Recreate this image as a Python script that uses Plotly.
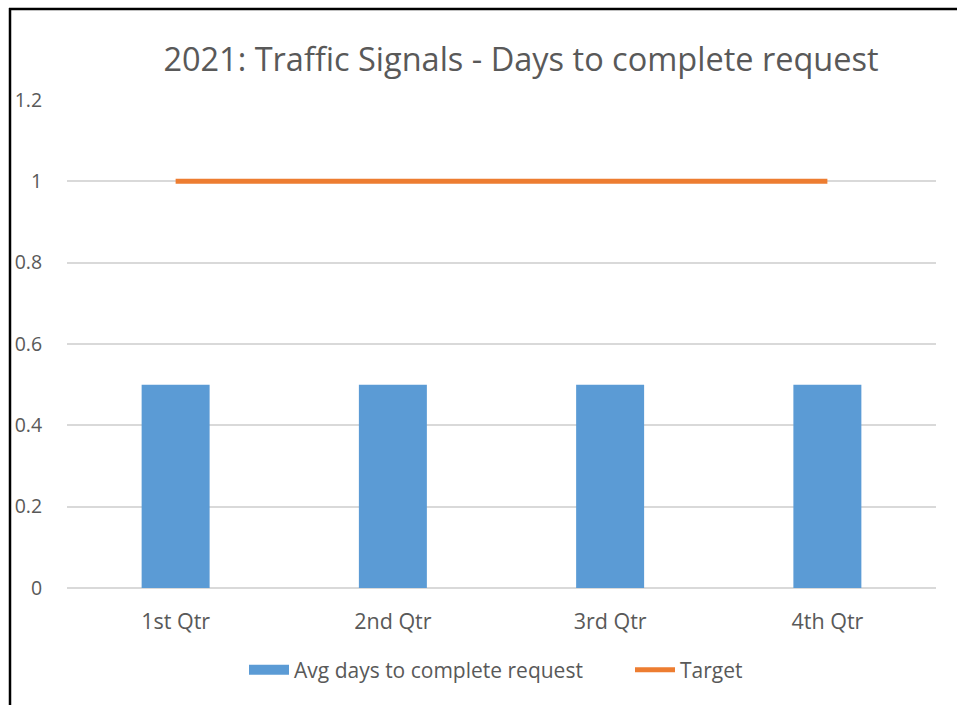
import plotly.graph_objects as go

categories = ["1st Qtr", "2nd Qtr", "3rd Qtr", "4th Qtr"]
avg_days = [0.5, 0.5, 0.5, 0.5]
target = [1, 1, 1, 1]
y_ticks = [0, 0.2, 0.4, 0.6, 0.8, 1, 1.2]
y_tick_labels = ["0", "0.2", "0.4", "0.6", "0.8", "1", "1.2"]

W, H = 957, 705
ml, mr, mt, mb = 67, 21, 100, 117
pw, ph = W - ml - mr, H - mt - mb

BLUE = "#5B9BD5"
ORANGE = "#ED7D31"

fig = go.Figure()
fig.add_trace(go.Bar(x=categories, y=avg_days, name="Avg days to complete request",
                     marker=dict(color=BLUE, line=dict(width=0)), width=0.313,
                     showlegend=False))
# legend proxy giving a wide rectangular swatch for the bar series
fig.add_trace(go.Scatter(x=[None], y=[None], name="Avg days to complete request",
                         mode="lines", line=dict(color=BLUE, width=15), legend="legend"))
fig.add_trace(go.Scatter(x=categories, y=target, name="Target", mode="lines",
                         line=dict(color=ORANGE, width=5), legend="legend2"))

def px(x):
    return (x - ml) / pw

def py(y):
    return (H - mb - y) / ph

font = "Open Sans, Noto Sans, sans-serif"
leg_common = dict(orientation="h", xanchor="left", y=py(670), yanchor="middle",
                  font=dict(size=21, color="#595959"), itemwidth=40,
                  bgcolor="rgba(0,0,0,0)")
fig.update_layout(
    width=W, height=H,
    margin=dict(l=ml, r=mr, t=mt, b=mb, autoexpand=False),
    paper_bgcolor="white", plot_bgcolor="white",
    font=dict(family=font, color="#595959", size=19),
    title=dict(text="2021: Traffic Signals - Days to complete request",
               x=521 / W, xanchor="center", y=1 - 60 / H, yanchor="middle",
               font=dict(size=32.5, color="#595959", family=font)),
    xaxis=dict(showgrid=False, showline=False, zeroline=False, ticks="outside",
               ticklen=14, tickcolor="rgba(0,0,0,0)", tickfont=dict(size=21.5)),
    yaxis=dict(range=[0, 1.2], tickvals=y_ticks, ticktext=y_tick_labels,
               showgrid=True, gridcolor="#D9D9D9", gridwidth=1.5, zeroline=True,
               zerolinecolor="#D9D9D9", zerolinewidth=1.5, showline=False,
               ticks="outside", ticklen=20, tickcolor="rgba(0,0,0,0)",
               tickfont=dict(size=19.5)),
    legend=dict(x=px(244), **leg_common),
    legend2=dict(x=px(630), **leg_common),
    showlegend=True,
    shapes=[
        dict(type="line", xref="paper", yref="paper", x0=px(9), x1=px(W + 5),
             y0=py(9), y1=py(9), line=dict(color="black", width=2.5)),
        dict(type="line", xref="paper", yref="paper", x0=px(10), x1=px(10),
             y0=py(8), y1=py(H + 5), line=dict(color="black", width=2.5)),
    ],
)
fig.write_html("out.html", config={"displayModeBar": False},
               post_script="document.body.style.margin='0';document.body.style.overflow='hidden';")
